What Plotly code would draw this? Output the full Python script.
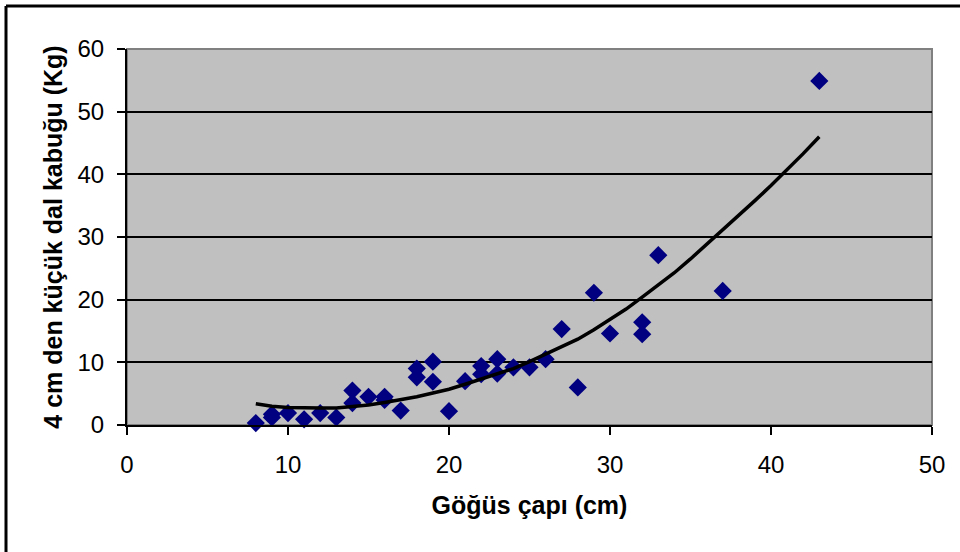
import plotly.graph_objects as go

# Scatter data (Göğüs çapı cm, 4 cm den küçük dal kabuğu Kg)
x_obs = [8, 9, 9, 10, 11, 12, 13, 14, 14, 15, 16, 16, 17, 18, 18, 19, 19, 20, 21,
         22, 22, 23, 23, 24, 25, 26, 27, 28, 29, 30, 32, 32, 33, 37, 43]
y_obs = [0.3, 1.2, 1.7, 1.9, 0.9, 1.9, 1.2, 5.5, 3.5, 4.5, 4.5, 4.0, 2.3, 9.0, 7.6, 10.1, 6.9, 2.2, 7.0,
         9.4, 8.1, 10.5, 8.2, 9.2, 9.2, 10.5, 15.3, 6.0, 21.1, 14.6, 16.4, 14.5, 27.1, 21.4, 54.9]

# Trend line
x_trend = [8, 9, 10, 11, 12, 13, 14, 15, 16, 17, 18, 19, 20, 21, 22, 23, 24, 25, 26, 27, 28,
           29, 30, 31, 32, 33, 34, 35, 36, 37, 38, 39, 40, 41, 42, 43]
y_trend = [3.4, 3.0, 2.8, 2.7, 2.7, 2.7, 2.9, 3.2, 3.6, 4.0, 4.5, 5.1, 5.7, 6.5, 7.3, 8.1, 9.0, 10.1, 11.3, 12.5, 13.7,
           15.2, 16.8, 18.5, 20.4, 22.3, 24.3, 26.5, 28.8, 31.1, 33.4, 35.8, 38.2, 40.7, 43.3, 46.0]

x_ticks = [0, 10, 20, 30, 40, 50]
y_ticks = [0, 10, 20, 30, 40, 50, 60]

FONT = "Liberation Sans, Arial, sans-serif"

fig = go.Figure()
fig.add_trace(go.Scatter(x=x_obs, y=y_obs, mode="markers",
                         marker=dict(symbol="diamond", size=14, color="#000080"),
                         showlegend=False, cliponaxis=False))
fig.add_trace(go.Scatter(x=x_trend, y=y_trend, mode="lines",
                         line=dict(color="black", width=3.5),
                         showlegend=False))

L, R, T, B = 127, 28, 49, 127
W, H = 960, 552
pw, ph = W - L - R, H - T - B

fig.update_layout(
    width=W, height=H,
    margin=dict(l=L, r=R, t=T, b=B, pad=0),
    paper_bgcolor="white",
    plot_bgcolor="#C0C0C0",
    font=dict(family=FONT, size=24, color="black"),
    xaxis=dict(range=[0, 50], tickvals=x_ticks, ticks="outside", ticklen=8, tickwidth=2,
               tickcolor="black", showgrid=False, zeroline=False,
               showline=True, linecolor="black", linewidth=2,
               ticklabelstandoff=9,
               title=dict(text="<b>Göğüs çapı (cm)</b>", font=dict(size=25), standoff=20)),
    yaxis=dict(range=[0, 60], tickvals=y_ticks, ticks="outside", ticklen=8, tickwidth=2,
               tickcolor="black", showgrid=True, gridcolor="black", gridwidth=2,
               zeroline=False, showline=True, linecolor="black", linewidth=2,
               ticklabelstandoff=8,
               title=dict(text="<b>4 cm den küçük dal kabuğu (Kg)</b>", font=dict(size=25), standoff=8)),
    shapes=[
        dict(type="rect", xref="paper", yref="paper", x0=0, x1=1, y0=0, y1=1,
             line=dict(color="#808080", width=2), layer="below"),
        dict(type="line", xref="paper", yref="paper",
             x0=(6 - L) / pw, x1=(6 - L) / pw,
             y0=(H - B - (H + 10)) / ph, y1=(H - B - 6) / ph,
             line=dict(color="black", width=3)),
        dict(type="line", xref="paper", yref="paper",
             x0=(6 - L) / pw, x1=(W + 10 - L) / pw,
             y0=(H - B - 6) / ph, y1=(H - B - 6) / ph,
             line=dict(color="black", width=3)),
    ],
)

fig.write_html("out.html", config={"displayModeBar": False},
               post_script="document.body.style.margin='0';document.body.style.overflow='hidden';")
